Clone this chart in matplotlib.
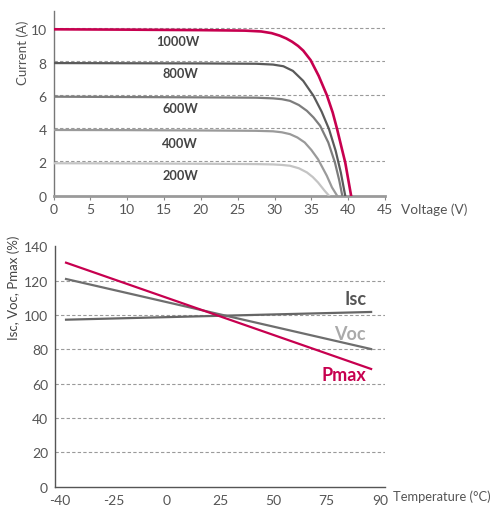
import numpy as np
import matplotlib
matplotlib.use("Agg")
import matplotlib.pyplot as plt

plt.rcParams['font.family'] = ['Lato', 'DejaVu Sans']

# I-V curves at different irradiance
v_1000 = [0, 10, 20, 26, 28.2, 29.6, 30.7, 31.6, 32.4, 33.2, 33.9, 34.9, 36.0, 37.1, 37.9, 38.5, 39.1, 39.6, 40.0, 40.4]
i_1000 = [10.0, 9.98, 9.95, 9.92, 9.87, 9.77, 9.62, 9.45, 9.25, 9.0, 8.72, 8.15, 7.2, 6.05, 5.0, 4.0, 2.9, 2.0, 1.0, 0]
v_800 = [0, 10, 20, 27.5, 29.8, 31.2, 32.5, 33.9, 35.3, 36.4, 37.4, 38.3, 39.0, 39.6]
i_800 = [7.97, 7.96, 7.95, 7.93, 7.88, 7.78, 7.5, 6.9, 6.0, 5.05, 4.0, 2.7, 1.4, 0]
v_600 = [0, 10, 20, 27.5, 29.8, 31.0, 32.1, 33.3, 34.4, 35.3, 36.2, 37.3, 38.2, 38.8, 39.2]
i_600 = [5.95, 5.93, 5.91, 5.89, 5.85, 5.8, 5.7, 5.45, 5.1, 4.7, 4.2, 3.2, 2.0, 0.9, 0]
v_400 = [0, 10, 20, 27.5, 29.8, 31.0, 32.1, 33.1, 34.1, 35.0, 35.9, 37.1, 37.8, 38.5]
i_400 = [3.95, 3.94, 3.92, 3.9, 3.87, 3.81, 3.7, 3.5, 3.2, 2.75, 2.2, 1.2, 0.5, 0]
v_200 = [0, 10, 20, 27.5, 29.8, 31.0, 32.1, 33.3, 34.4, 35.2, 35.9, 36.8, 37.4]
i_200 = [1.95, 1.94, 1.92, 1.9, 1.88, 1.85, 1.8, 1.65, 1.4, 1.12, 0.8, 0.3, 0]
iv_labels = ['1000W', '800W', '600W', '400W', '200W']

# temperature dependence (%)
temp_ticks = [-40, -25, 0, 25, 50, 75, 90]
temp_ends = [-38.3, 87.5]
isc = [97.2, 101.7]
voc = [120.9, 80.1]
pmax = [130.4, 68.5]

RED = '#C7004F'
TXT = '#555555'

fig = plt.figure(figsize=(4.9, 5.06), dpi=100)

# ---------------- top chart ----------------
ax1 = fig.add_axes([53.5 / 490, 1 - 196.7 / 506, 331.5 / 490, 184.7 / 506])
curves = [(v_200, i_200, '#c4c4c4'), (v_400, i_400, '#9a9a9a'),
          (v_600, i_600, '#7d7d7d'), (v_800, i_800, '#5a5a5a'),
          (v_1000, i_1000, RED)]
for v, i, c in curves:
    ax1.plot(v, i, color=c, lw=1.9 if c == RED else 1.6,
             solid_joinstyle='round', zorder=3)

for y in [2, 4, 6, 8, 10]:
    ax1.axhline(y + 0.08, color='#9a9a9a', lw=0.8, ls=(0, (3, 2)), zorder=1)

label_pos = [(16.9, 9.3), (17.2, 7.4), (17.2, 5.28), (17.2, 3.17), (17.2, 1.27)]
for txt, (x, y) in zip(iv_labels, label_pos):
    ax1.text(x, y, txt, ha='center', va='center', fontsize=9.2,
             fontweight='bold', color='#444444')

ax1.set_xlim(0, 45)
ax1.set_ylim(0, 11.1)
ax1.set_xticks(range(0, 46, 5))
ax1.set_yticks(range(0, 11, 2))
ax1.tick_params(axis='x', length=3, width=0.8, color='#888888', pad=2,
                labelsize=10, labelcolor=TXT)
ax1.tick_params(axis='y', length=0, pad=5, labelsize=10, labelcolor=TXT)
for s in ['top', 'right']:
    ax1.spines[s].set_visible(False)
ax1.spines['left'].set_color('#777777')
ax1.spines['left'].set_linewidth(1.0)
ax1.spines['bottom'].set_color('#9a9a9a')
ax1.spines['bottom'].set_linewidth(2.0)
ax1.set_ylabel('Current (A)', fontsize=9.5, color=TXT)
ax1.yaxis.set_label_coords(-0.074, 0.778)
fig.text(401 / 490, 1 - 210 / 506, 'Voltage (V)', fontsize=9.8, color=TXT,
         ha='left', va='center')

# ---------------- bottom chart ----------------
ax2 = fig.add_axes([55 / 490, 1 - 487.6 / 506, 330 / 490, 240.4 / 506])
tick_pos = np.arange(len(temp_ticks))
x_ends = np.interp(temp_ends, temp_ticks, tick_pos)

for y in [20, 40, 60, 80, 100, 120]:
    ax2.axhline(y, color='#9a9a9a', lw=0.8, ls=(0, (3, 2)), zorder=1)

ax2.plot(x_ends, isc, color='#666666', lw=1.6, zorder=3)
ax2.plot(x_ends, voc, color='#6e6e6e', lw=1.6, zorder=3)
ax2.plot(x_ends, pmax, color=RED, lw=1.6, zorder=4)

ax2.text(5.74, 109.3, 'Isc', ha='right', va='center', fontsize=13,
         fontweight='bold', color='#555555')
ax2.text(5.74, 88.9, 'Voc', ha='right', va='center', fontsize=13,
         fontweight='bold', color='#aaaaaa')
ax2.text(5.74, 65.0, 'Pmax', ha='right', va='center', fontsize=13,
         fontweight='bold', color=RED)

ax2.set_xlim(-5 / 53.33, 6 + 5 / 53.33)
ax2.set_ylim(0, 140)
ax2.set_xticks(tick_pos)
ax2.set_xticklabels([str(t) for t in temp_ticks])
ax2.set_yticks(range(0, 141, 20))
ax2.tick_params(axis='x', length=0, pad=5, labelsize=10, labelcolor=TXT)
ax2.tick_params(axis='y', length=0, pad=5, labelsize=10, labelcolor=TXT)
for s in ['top', 'right']:
    ax2.spines[s].set_visible(False)
ax2.spines['left'].set_color('#555555')
ax2.spines['left'].set_linewidth(1.0)
ax2.spines['bottom'].set_color('#555555')
ax2.spines['bottom'].set_linewidth(1.0)
ax2.set_ylabel('Isc, Voc, Pmax (%)', fontsize=9.5, color='#444444')
ax2.yaxis.set_label_coords(-0.106, 0.83)
fig.text(393 / 490, 1 - 497 / 506, 'Temperature (°C)', fontsize=9.3, color=TXT,
         ha='left', va='center')

fig.savefig('out.png', dpi=100)
